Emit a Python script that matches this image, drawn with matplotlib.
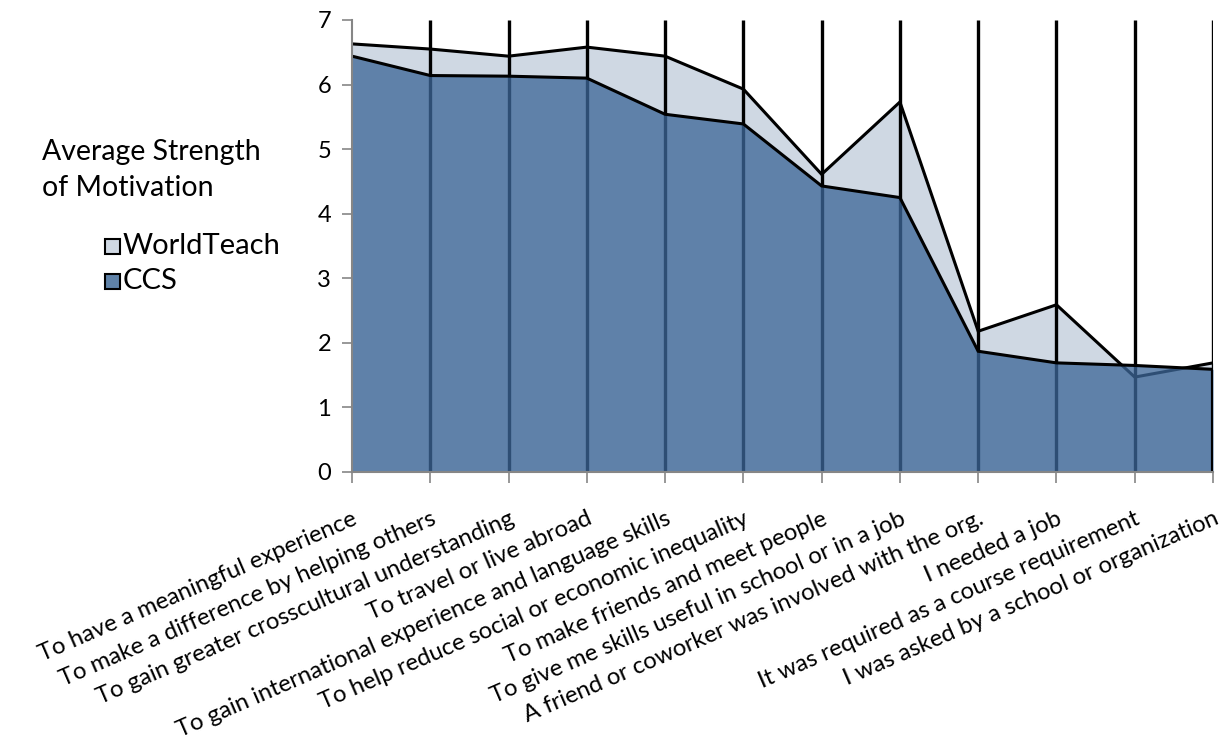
import matplotlib.pyplot as plt
import numpy as np
from matplotlib.patches import Rectangle

plt.rcParams['font.family'] = ['Lato', 'DejaVu Sans']

categories = [
    'To have a meaningful experience',
    'To make a difference by helping others',
    'To gain greater crosscultural understanding',
    'To travel or live abroad',
    'To gain international experience and language skills',
    'To help reduce social or economic inequality',
    'To make friends and meet people',
    'To give me skills useful in school or in a job',
    'A friend or coworker was involved with the org.',
    'I needed a job',
    'It was required as a course requirement',
    'I was asked by a school or organization',
]
worldteach = [6.63, 6.55, 6.44, 6.58, 6.44, 5.93, 4.61, 5.73, 2.18, 2.59, 1.47, 1.69]
ccs = [6.44, 6.14, 6.13, 6.10, 5.54, 5.39, 4.43, 4.25, 1.87, 1.69, 1.65, 1.59]
yticks = [0, 1, 2, 3, 4, 5, 6, 7]

wt_color = '#cfd8e3'
ccs_color = '#3d6798'   # drawn with alpha so the grid lines show through dark blue
axis_grey = '#868686'

x = np.arange(len(categories))

fig = plt.figure(figsize=(12.2, 7.5), dpi=100)
ax = fig.add_axes([352 / 1220, 1 - 472 / 750, 861 / 1220, 452 / 750])

# worldteach behind, black vertical grid, ccs in front
ax.fill_between(x, 0, worldteach, color=wt_color, zorder=1, linewidth=0)
ax.plot(x, worldteach, color='black', lw=2.2, zorder=1.5, solid_joinstyle='miter')
for xi in x[1:]:
    ax.plot([xi, xi], [0, 7], color='black', lw=2.4, zorder=2, solid_capstyle='butt')
ax.fill_between(x, 0, ccs, color=ccs_color, alpha=0.77, zorder=3, linewidth=0)
ax.plot(x, ccs, color='black', lw=2.2, zorder=4, solid_joinstyle='miter')
ax.plot([x[-1], x[-1]], [0, ccs[-1]], color='black', lw=3, zorder=4, solid_capstyle='butt')

ax.set_xlim(0, len(categories) - 1)
ax.set_ylim(0, 7)
ax.set_yticks(yticks)
ax.set_yticklabels([str(v) for v in yticks], fontsize=17)
ax.set_xticks(x)
ax.set_xticklabels(categories, rotation=23.5, ha='right', va='top',
                   rotation_mode='anchor', fontsize=17.2)
ax.tick_params(axis='y', length=7, width=1.2, color=axis_grey, pad=8)
ax.tick_params(axis='x', length=8, width=1.2, color=axis_grey, pad=18, direction='out')

for side in ['top', 'right']:
    ax.spines[side].set_visible(False)
for side in ['left', 'bottom']:
    ax.spines[side].set_color(axis_grey)
    ax.spines[side].set_linewidth(1.5)
    ax.spines[side].set_zorder(5)

# legend block on the left
fig.text(42 / 1220, 1 - 170 / 750, 'Average Strength\nof Motivation', fontsize=20.5,
         va='center', ha='left', linespacing=1.5)
for label, color, ypix in [('WorldTeach', wt_color, 246), ('CCS', '#5f82a8', 281)]:
    fig.patches.append(Rectangle((105 / 1220, 1 - (ypix + 8) / 750), 15 / 1220, 15 / 750,
                                 transform=fig.transFigure, facecolor=color,
                                 edgecolor='black', lw=1.5))
    fig.text(123 / 1220, 1 - ypix / 750, label, fontsize=21, va='center', ha='left')

fig.savefig('out.png', dpi=100)
